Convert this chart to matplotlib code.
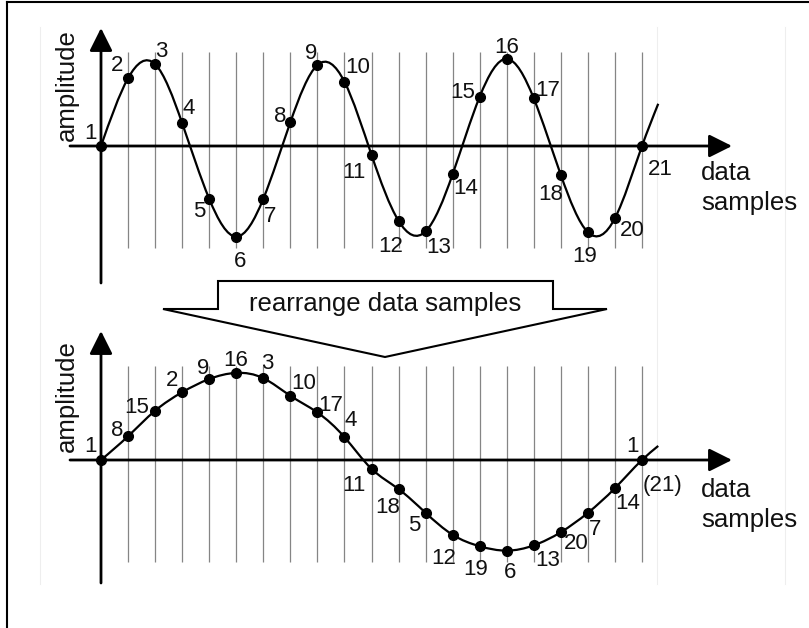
import numpy as np
import matplotlib
matplotlib.use('Agg')
import matplotlib.pyplot as plt
from matplotlib.path import Path
from matplotlib.patches import PathPatch, Polygon

plt.rcParams['font.family'] = ['Liberation Sans', 'DejaVu Sans']

# Amplitude of data samples 1..21 (1.0 = wave peak)
sample_numbers = list(range(1, 22))
sample_values = [0.0, 0.77, 0.93, 0.26, -0.60, -1.03, -0.60, 0.27, 0.92, 0.73,
                 -0.10, -0.85, -0.97, -0.32, 0.56, 0.99, 0.54, -0.33, -0.98, -0.82, 0.0]

# Sample order after rearranging (one slow cycle instead of three fast ones)
rearranged_order = [1, 8, 15, 2, 9, 16, 3, 10, 17, 4, 11,
                    18, 5, 12, 19, 6, 13, 20, 7, 14, 21]

# The drawn curve runs a little past the last sample
top_tail = (20.6, 0.48)
bottom_tail = (20.6, 0.16)

# label offsets from each dot, in pixels (x right, y up)
top_label_offsets = [(-11, 15), (-11, 15), (6, 15), (7, 17), (-10, -10), (4, -22),
                     (7, -15), (-10, 8), (-6, 14), (13, 17), (-18, -15), (-8, -23),
                     (13, -14), (13, -12), (-17, 7), (0, 14), (14, 10), (-10, -17),
                     (-3, -22), (17, -10), (18, -21)]
bottom_label_offsets = [(-10, 16), (-11, 8), (-18, 6), (-10, 14), (-6, 13), (-1, 15),
                        (4, 17), (13, 15), (13, 9), (6, 19), (-18, -14), (-11, -16),
                        (-11, -10), (-9, -21), (-4, -21), (3, -19), (14, -13), (15, -9),
                        (7, -14), (13, -13), (-9, 16)]

# figure layout in pixels
W, H = 809, 628
X0, DX, AMP = 101, 27.05, 88.0
TOP_AXIS_Y, BOTTOM_AXIS_Y = 146, 460

LABEL_SIZE = 18.5
NUM_SIZE = 16
DIGIT_HALF = 8   # half the digit height in pixels, to centre numbers on the offset


def spline_path(xs, ys):
    # natural cubic spline through the points, drawn as bezier segments
    xs = np.asarray(xs, float)
    ys = np.asarray(ys, float)
    n = len(xs)
    h = np.diff(xs)
    d = np.diff(ys) / h
    A = np.zeros((n, n))
    b = np.zeros(n)
    A[0, 0], A[0, 1], b[0] = 2, 1, 3 * d[0]
    A[-1, -2], A[-1, -1], b[-1] = 1, 2, 3 * d[-1]
    for i in range(1, n - 1):
        A[i, i - 1] = h[i]
        A[i, i] = 2 * (h[i - 1] + h[i])
        A[i, i + 1] = h[i - 1]
        b[i] = 3 * (h[i] * d[i - 1] + h[i - 1] * d[i])
    m = np.linalg.solve(A, b)
    verts = [(xs[0], ys[0])]
    codes = [Path.MOVETO]
    for i in range(n - 1):
        verts += [(xs[i] + h[i] / 3, ys[i] + m[i] * h[i] / 3),
                  (xs[i + 1] - h[i] / 3, ys[i + 1] - m[i + 1] * h[i] / 3),
                  (xs[i + 1], ys[i + 1])]
        codes += [Path.CURVE4] * 3
    return Path(verts, codes)


def panel_axes(axis_y):
    ax = fig.add_axes([0, 0, 1, 1])
    ax.set_xlim(-X0 / DX, (W - X0) / DX)
    ax.set_ylim((axis_y - H) / AMP, axis_y / AMP)
    ax.axis('off')
    ax.patch.set_visible(False)
    return ax


def draw_panel(ax, values, labels, offsets, tail, axis_y, y_top, y_bottom):
    k = np.arange(len(values))
    # sample grid
    ax.vlines(k[1:], -1.16, 1.07, color='#858585', lw=0.9, zorder=1)
    # axes with arrow heads
    arrow = dict(arrowstyle='-|>,head_length=1.0,head_width=0.5', mutation_scale=14,
                 lw=2, color='black', shrinkA=0, shrinkB=0)
    ax.annotate('', xy=((732 - X0) / DX, 0), xytext=((70 - X0) / DX, 0), arrowprops=arrow, zorder=2)
    ax.annotate('', xy=(0, (axis_y - y_top) / AMP), xytext=(0, (axis_y - y_bottom) / AMP),
                arrowprops=arrow, zorder=2)
    # signal curve and samples
    curve = spline_path(list(k) + [tail[0]], list(values) + [tail[1]])
    ax.add_patch(PathPatch(curve, fill=False, lw=1.6, ec='black', zorder=3))
    ax.plot(k, values, 'o', color='black', ms=7, zorder=4)
    for x, v, lbl, (dx, dy) in zip(k, values, labels, offsets):
        ax.annotate(lbl, (x, v), xytext=(dx, dy - DIGIT_HALF), textcoords='offset pixels',
                    ha='center', va='baseline', fontsize=NUM_SIZE, color='#111111', zorder=5)


fig = plt.figure(figsize=(W / 100, H / 100), dpi=100)
fig.patch.set_facecolor('white')

# background layer in pixel coordinates: frame, block arrow, axis titles
bg = fig.add_axes([0, 0, 1, 1])
bg.set_xlim(0, W)
bg.set_ylim(H, 0)
bg.axis('off')
bg.plot([7.5, W], [1.5, 1.5], color='black', lw=1.5)
bg.plot([7.5, 7.5], [1.5, H], color='black', lw=1.5)
for fx in [40, 657, 785]:
    bg.plot([fx, fx], [27, 584], color='#eeeeee', lw=0.8)

block = Polygon([(218, 281), (553, 281), (553, 309), (607, 309), (385, 357),
                 (163, 309), (218, 309)], closed=True, fc='white', ec='black', lw=1.5)
bg.add_patch(block)
bg.text(385, 311, 'rearrange data samples', ha='center', va='baseline',
        fontsize=LABEL_SIZE, color='#111111')

for cy in [85, 396]:
    bg.text(66.5, cy, 'amplitude', rotation=90, ha='center', va='center',
            fontsize=LABEL_SIZE, color='#111111')
for base in [180, 497]:
    bg.text(701, base, 'data', ha='left', va='baseline', fontsize=LABEL_SIZE, color='#111111')
    bg.text(701, base + 30, 'samples', ha='left', va='baseline', fontsize=LABEL_SIZE, color='#111111')

# top panel: samples in original order
top = panel_axes(TOP_AXIS_Y)
draw_panel(top, sample_values, [str(n) for n in sample_numbers], top_label_offsets,
           top_tail, TOP_AXIS_Y, 28, 283)

# bottom panel: the same samples rearranged
bottom_values = [sample_values[n - 1] for n in rearranged_order]
bottom_labels = [str(n) for n in rearranged_order]
bottom_labels[-1] = '1'
bottom = panel_axes(BOTTOM_AXIS_Y)
draw_panel(bottom, bottom_values, bottom_labels, bottom_label_offsets,
           bottom_tail, BOTTOM_AXIS_Y, 331, 583)
bottom.annotate('(21)', (20, bottom_values[-1]), xytext=(21, -23 - DIGIT_HALF),
                textcoords='offset pixels', ha='center', va='baseline',
                fontsize=NUM_SIZE, color='#111111')

fig.savefig('out.png', dpi=100)
